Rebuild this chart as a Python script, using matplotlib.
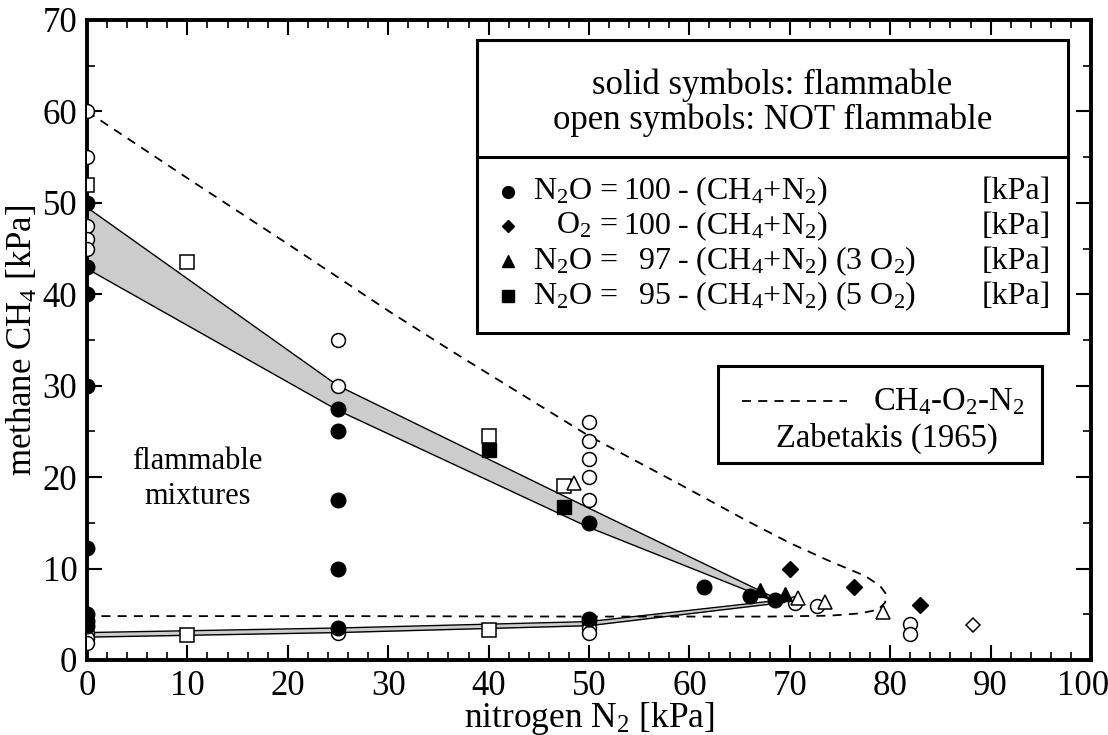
import matplotlib
matplotlib.use("Agg")
import matplotlib.pyplot as plt
from matplotlib.patches import Rectangle
from matplotlib.lines import Line2D
from matplotlib.ticker import MultipleLocator

plt.rcParams['font.family'] = ['Liberation Serif', 'DejaVu Serif']
plt.rcParams['mathtext.fontset'] = 'custom'
plt.rcParams['mathtext.rm'] = 'Liberation Serif'
plt.rcParams['mathtext.it'] = 'Liberation Serif:italic'
plt.rcParams['mathtext.default'] = 'rm'

# --- N2O = 100 - (CH4+N2): circles ---
circ_fl_n2 = [0, 0, 0, 0, 0, 0, 0, 0, 25, 25, 25, 25, 25, 50, 50, 61.5, 66, 68.5]
circ_fl_ch4 = [50, 43, 40, 30, 12.3, 5.0, 4.3, 3.7, 27.5, 25, 17.5, 10, 3.5, 15, 4.5, 8, 7, 6.6]
circ_nf_n2 = [0, 0, 0, 0, 0, 0, 0, 0, 25, 25, 25, 50, 50, 50, 50, 50, 50, 50, 50, 70.5, 72.7, 82, 82]
circ_nf_ch4 = [60, 55, 47.5, 46, 45, 3.0, 2.4, 1.9, 35, 30, 3.0, 26, 24, 22, 20, 17.5, 4.0, 3.5, 3.0,
               6.2, 5.9, 3.9, 2.8]

# --- O2 = 100 - (CH4+N2): diamonds ---
dia_fl_n2 = [70, 76.4, 83]
dia_fl_ch4 = [10, 8, 6]
dia_nf_n2 = [88.2]
dia_nf_ch4 = [3.8]

# --- N2O = 97 - (CH4+N2), 3 O2: triangles ---
tri_fl_n2 = [67, 69.5]
tri_fl_ch4 = [7.7, 7.2]
tri_nf_n2 = [48.5, 70.8, 73.5, 79.3]
tri_nf_ch4 = [19.4, 6.8, 6.3, 5.2]

# --- N2O = 95 - (CH4+N2), 5 O2: squares ---
sq_fl_n2 = [40, 47.5]
sq_fl_ch4 = [23, 16.7]
sq_nf_n2 = [0, 10, 40, 47.5, 10, 40]
sq_nf_ch4 = [52, 43.5, 24.5, 19, 2.7, 3.3]

# upper flammability limit band
ufl_n2 = [0, 25, 50, 68.5]
ufl_hi = [49.5, 30, 16.6, 6.8]
ufl_lo = [42.8, 27.3, 14.5, 6.4]

# lower flammability limit band
lfl_n2 = [0, 25, 50, 69.5]
lfl_hi = [3.0, 3.5, 4.2, 6.6]
lfl_lo = [2.5, 3.0, 3.75, 6.3]

# CH4-O2-N2 limit curve, Zabetakis (1965)
zab_n2 = [0, 10, 20, 30, 36.6, 50, 58.9, 65.6, 70, 74, 77.5, 79.0, 79.6, 79.5, 78.8, 77, 74, 68,
          50, 25, 0]
zab_ch4 = [60, 52.7, 45.5, 38.2, 33.6, 24.5, 19.3, 15.3, 12.8, 10.8, 9.2, 8.1, 7.2, 6.3, 5.5, 5.1,
           4.85, 4.75, 4.75, 4.8, 4.8]

x_ticks = [0, 10, 20, 30, 40, 50, 60, 70, 80, 90, 100]
x_ticklabels = ['0', '10', '20', '30', '40', '50', '60', '70', '80', '90', '']

fig = plt.figure(figsize=(11.08, 7.35), dpi=100)
ax = fig.add_axes([87 / 1108, 1 - 660 / 735, 1004 / 1108, 640 / 735])

for n2, hi, lo in [(ufl_n2, ufl_hi, ufl_lo), (lfl_n2, lfl_hi, lfl_lo)]:
    ax.fill_between(n2, lo, hi, color='#cccccc', lw=0, zorder=1)
    ax.plot(n2, hi, color='black', lw=1.0, zorder=2)
    ax.plot(n2, lo, color='black', lw=1.0, zorder=2)

ax.plot(zab_n2, zab_ch4, color='black', lw=1.3, ls=(0, (5, 4)), zorder=2)

open_kw = dict(ls='none', mfc='white', mec='black', mew=1.1, zorder=3)
fill_kw = dict(ls='none', color='black', zorder=4)

ax.plot(circ_nf_n2, circ_nf_ch4, 'o', ms=10, **open_kw)
ax.plot(sq_nf_n2, sq_nf_ch4, 's', ms=10, **open_kw)
ax.plot(tri_nf_n2, tri_nf_ch4, '^', ms=10, **open_kw)
ax.plot(dia_nf_n2, dia_nf_ch4, 'D', ms=7.5, **open_kw)

ax.plot(circ_fl_n2, circ_fl_ch4, 'o', ms=10.5, **fill_kw)
ax.plot(sq_fl_n2, sq_fl_ch4, 's', ms=10, **fill_kw)
ax.plot(tri_fl_n2, tri_fl_ch4, '^', ms=10, **fill_kw)
ax.plot(dia_fl_n2, dia_fl_ch4, 'D', ms=8, **fill_kw)

ax.set_xlim(0, 100)
ax.set_ylim(0, 70)
ax.set_xticks(x_ticks)
ax.set_xticklabels(x_ticklabels)
ax.xaxis.set_minor_locator(MultipleLocator(2))
ax.yaxis.set_major_locator(MultipleLocator(10))
ax.yaxis.set_minor_locator(MultipleLocator(5))
ax.tick_params(which='both', direction='in', top=True, right=True, labelsize=25)
ax.tick_params(which='major', length=11, width=1.5, pad=7)
ax.tick_params(which='minor', length=6, width=1.2)
for s in ax.spines.values():
    s.set_linewidth(2.8)
# last x label pulled slightly inward so it stays on the canvas
ax.annotate('100', xy=(1, 0), xycoords='axes fraction', xytext=(-6, -7), textcoords='offset points',
            ha='center', va='top', fontsize=25)

ax.set_xlabel('nitrogen N$_2$ [kPa]', fontsize=25.5, labelpad=-2)
ax.set_ylabel('methane CH$_4$ [kPa]', fontsize=25, labelpad=2)

ax.text(0.11, 0.283, 'flammable\nmixtures', transform=ax.transAxes, ha='center', va='center',
        fontsize=22, linespacing=1.3)

# symbol legend box
T = ax.transAxes
ax.add_patch(Rectangle((0.388, 0.511), 0.589, 0.458, transform=T, fill=True, fc='white',
                       ec='black', lw=2.2, zorder=5))
ax.add_line(Line2D([0.388, 0.977], [0.786, 0.786], transform=T, color='black', lw=2.2, zorder=6))
ax.text(0.6825, 0.898, 'solid symbols: flammable', transform=T, ha='center', va='center',
        fontsize=25, zorder=6)
ax.text(0.6825, 0.843, 'open symbols: NOT flammable', transform=T, ha='center', va='center',
        fontsize=25, zorder=6)

rows = [
    ('o', 8.5, 'N$_2$O =', '100', '- (CH$_4$+N$_2$)'),
    ('D', 6.0, 'O$_2$ =', '100', '- (CH$_4$+N$_2$)'),
    ('^', 8.0, 'N$_2$O =', '97', '- (CH$_4$+N$_2$) (3 O$_2$)'),
    ('s', 8.0, 'N$_2$O =', '95', '- (CH$_4$+N$_2$) (5 O$_2$)'),
]
row_y = [0.732, 0.678, 0.623, 0.568]
for (mk, ms, lhs, num, rhs), y in zip(rows, row_y):
    ax.plot([0.419], [y], mk, ms=ms, color='black', transform=T, zorder=6, clip_on=False)
    ax.text(0.5289, y, lhs, transform=T, ha='right', va='center', fontsize=23, zorder=6)
    ax.text(0.5817, y, num, transform=T, ha='right', va='center', fontsize=23, zorder=6)
    ax.text(0.5877, y, rhs, transform=T, ha='left', va='center', fontsize=23, zorder=6)
    ax.text(0.960, y, '[kPa]', transform=T, ha='right', va='center', fontsize=23, zorder=6)

# reference curve legend box
ax.add_patch(Rectangle((0.628, 0.308), 0.323, 0.151, transform=T, fill=True, fc='white',
                       ec='black', lw=2.2, zorder=5))
ax.add_line(Line2D([0.652, 0.757], [0.404, 0.404], transform=T, color='black', lw=1.3,
                   ls=(0, (5, 4)), zorder=6))
ax.text(0.934, 0.404, 'CH$_4$-O$_2$-N$_2$', transform=T, ha='right', va='center', fontsize=23.5,
        zorder=6)
ax.text(0.797, 0.347, 'Zabetakis (1965)', transform=T, ha='center', va='center', fontsize=23.5,
        zorder=6)

fig.savefig('out.png', dpi=100)
